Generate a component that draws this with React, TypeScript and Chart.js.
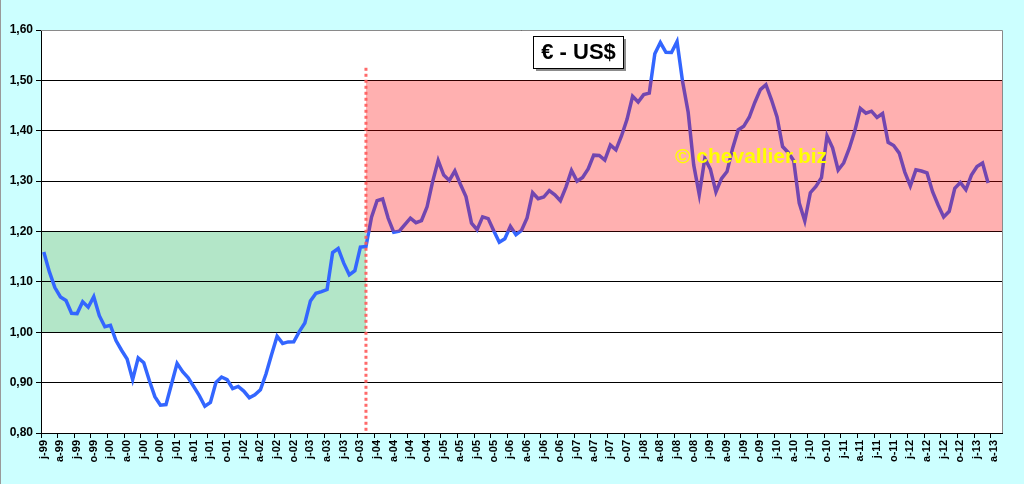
import { useEffect, useRef } from "react"
import { Chart, registerables } from "chart.js"

Chart.register(...registerables)

// French month initials used on the category axis
const MONTHS = ["j", "f", "m", "a", "m", "j", "j", "a", "s", "o", "n", "d"]
const FIRST_YEAR = 1999
// axis runs Jan 1999 .. May 2013, data stops in Mar 2013
const AXIS_MONTHS = 173

// EUR/USD monthly averages
const eur1999 = [1.1591, 1.1203, 1.0886, 1.0701, 1.063, 1.0377, 1.037, 1.0605, 1.0497, 1.0706, 1.0328, 1.011]
const eur2000 = [1.0137, 0.9834, 0.9643, 0.947, 0.906, 0.9492, 0.9397, 0.9041, 0.8721, 0.8552, 0.8564, 0.8973]
const eur2001 = [0.9383, 0.9217, 0.9095, 0.892, 0.8742, 0.8532, 0.8607, 0.9005, 0.9111, 0.9059, 0.8883, 0.8924]
const eur2002 = [0.8833, 0.87, 0.8758, 0.8858, 0.917, 0.9554, 0.9922, 0.9778, 0.9808, 0.9811, 1.0014, 1.0183]
const eur2003 = [1.0622, 1.0773, 1.0807, 1.0848, 1.1582, 1.1663, 1.1372, 1.1139, 1.1222, 1.1692, 1.1702, 1.2286]
const eur2004 = [1.2613, 1.2646, 1.2262, 1.1985, 1.2007, 1.2138, 1.2266, 1.2176, 1.2218, 1.249, 1.2991, 1.3408]
const eur2005 = [1.3119, 1.3014, 1.3201, 1.2938, 1.2694, 1.2165, 1.2037, 1.2292, 1.2256, 1.2015, 1.1786, 1.1856]
const eur2006 = [1.2103, 1.1938, 1.202, 1.2271, 1.277, 1.265, 1.2684, 1.2811, 1.2727, 1.2611, 1.2881, 1.3213]
const eur2007 = [1.2999, 1.3074, 1.3242, 1.3516, 1.3511, 1.3419, 1.3716, 1.3622, 1.3896, 1.4227, 1.4684, 1.457]
const eur2008 = [1.4718, 1.4748, 1.5527, 1.575, 1.5557, 1.5553, 1.577, 1.4975, 1.437, 1.3322, 1.2732, 1.3449]
const eur2009 = [1.3239, 1.2785, 1.305, 1.319, 1.365, 1.4016, 1.4088, 1.4268, 1.4562, 1.4816, 1.4914, 1.4614]
const eur2010 = [1.4272, 1.3686, 1.3569, 1.3406, 1.2565, 1.2209, 1.277, 1.2894, 1.3067, 1.3898, 1.3661, 1.322]
const eur2011 = [1.336, 1.3649, 1.3999, 1.4442, 1.4349, 1.4388, 1.4264, 1.4343, 1.377, 1.3706, 1.3556, 1.3179]
const eur2012 = [1.2905, 1.3224, 1.3201, 1.3162, 1.2789, 1.2526, 1.2288, 1.24, 1.2856, 1.2974, 1.2828, 1.3119]
const eur2013 = [1.3288, 1.3359, 1.2964]

const eurUsd = [
  ...eur1999, ...eur2000, ...eur2001, ...eur2002, ...eur2003,
  ...eur2004, ...eur2005, ...eur2006, ...eur2007, ...eur2008,
  ...eur2009, ...eur2010, ...eur2011, ...eur2012, ...eur2013,
]

const labels: string[] = []
for (let i = 0; i < AXIS_MONTHS; i++) {
  const year = FIRST_YEAR + Math.floor(i / 12)
  labels.push(MONTHS[i % 12] + "-" + String(year % 100).padStart(2, "0"))
}

const Y_MIN = 0.8
const Y_MAX = 1.6
const Y_STEP = 0.1

// shaded zones and split marker
const SPLIT_MONTH = 58 // Nov 2003
const SPLIT_TOP = 1.525
const GREEN_ZONE = [1.0, 1.2]
const RED_ZONE = [1.2, 1.5]

const TITLE = "€ - US$"
const WATERMARK = "© chevallier.biz"
const FONT = "'Liberation Sans', Arial, sans-serif"

const decorations = {
  id: "decorations",
  beforeDraw(chart: any) {
    const { ctx, chartArea: a, scales } = chart
    const x = scales.x
    const y = scales.y
    ctx.save()
    ctx.fillStyle = "#ccffff"
    ctx.fillRect(0, 0, chart.width, chart.height)
    ctx.fillStyle = "#9a9a9a"
    ctx.fillRect(0, 0, 1, chart.height)
    ctx.fillStyle = "#ffffff"
    ctx.fillRect(a.left, a.top, a.right - a.left, a.bottom - a.top)
    // green zone sits under the grid and the line
    const sx = x.getPixelForValue(SPLIT_MONTH)
    const g0 = y.getPixelForValue(GREEN_ZONE[0])
    const g1 = y.getPixelForValue(GREEN_ZONE[1])
    ctx.fillStyle = "#b3e6c8"
    ctx.fillRect(a.left, g1, sx - a.left, g0 - g1)
    ctx.restore()
  },
  afterDatasetsDraw(chart: any) {
    const { ctx, chartArea: a, scales } = chart
    const x = scales.x
    const y = scales.y
    const sx = x.getPixelForValue(SPLIT_MONTH)
    ctx.save()
    // red zone is laid over the line
    const r0 = y.getPixelForValue(RED_ZONE[0])
    const r1 = y.getPixelForValue(RED_ZONE[1])
    ctx.fillStyle = "rgba(255, 0, 0, 0.31)"
    ctx.fillRect(sx, r1, a.right - sx, r0 - r1)

    // plot border top / right
    ctx.strokeStyle = "#8a8a8a"
    ctx.lineWidth = 1
    ctx.beginPath()
    ctx.moveTo(a.left, a.top + 0.5)
    ctx.lineTo(a.right + 0.5, a.top + 0.5)
    ctx.lineTo(a.right + 0.5, a.bottom)
    ctx.stroke()

    // dotted split line
    ctx.strokeStyle = "rgba(255, 90, 90, 0.9)"
    ctx.lineWidth = 3
    ctx.setLineDash([3, 3])
    ctx.beginPath()
    ctx.moveTo(sx, y.getPixelForValue(SPLIT_TOP))
    ctx.lineTo(sx, a.bottom)
    ctx.stroke()
    ctx.restore()
  },
  afterDraw(chart: any) {
    const { ctx } = chart
    ctx.save()
    // title box with shadow
    const bx = 533, by = 36, bw = 90, bh = 32
    ctx.fillStyle = "rgba(0, 0, 0, 0.45)"
    ctx.fillRect(bx + 3, by + 3, bw, bh)
    ctx.fillStyle = "#ffffff"
    ctx.fillRect(bx, by, bw, bh)
    ctx.strokeStyle = "#000000"
    ctx.lineWidth = 1
    ctx.strokeRect(bx + 0.5, by + 0.5, bw, bh)
    ctx.fillStyle = "#000000"
    ctx.font = "bold 22px " + FONT
    ctx.textAlign = "center"
    ctx.textBaseline = "middle"
    ctx.fillText(TITLE, bx + bw / 2 + 0.5, by + bh / 2 + 1)

    // watermark
    ctx.fillStyle = "#ffff00"
    ctx.font = "bold 21px " + FONT
    ctx.textAlign = "left"
    ctx.fillText(WATERMARK, 675, 157)
    ctx.restore()
  },
}

export default function App() {
  const chartRef = useRef<HTMLCanvasElement>(null)
  const chartInstance = useRef<Chart | null>(null)

  useEffect(() => {
    document.body.style.margin = "0"
    if (!chartRef.current) return
    if (chartInstance.current) chartInstance.current.destroy()
    const ctx = chartRef.current.getContext("2d")
    if (!ctx) return

    chartInstance.current = new Chart(ctx, {
      type: "line",
      data: {
        labels,
        datasets: [
          {
            label: TITLE,
            data: eurUsd,
            borderColor: "#3366ff",
            borderWidth: 3.5,
            pointRadius: 0,
            tension: 0,
            fill: false,
          },
        ],
      },
      options: {
        responsive: false,
        animation: false,
        devicePixelRatio: 1,
        layout: { padding: { top: 30, right: 22, left: 0, bottom: 0 } },
        plugins: {
          legend: { display: false },
          tooltip: { enabled: false },
        },
        scales: {
          x: {
            offset: true,
            afterFit: (s: any) => {
              s.height = 51
            },
            grid: {
              offset: true,
              drawOnChartArea: false,
              tickLength: 5,
              color: (c: any) => (c.index % 3 === 0 ? "#000000" : "rgba(0,0,0,0)"),
              tickColor: (c: any) => (c.index % 3 === 0 ? "#000000" : "rgba(0,0,0,0)"),
            },
            border: { display: true, color: "#000000", width: 1 },
            ticks: {
              autoSkip: false,
              maxRotation: 90,
              minRotation: 90,
              padding: 2,
              color: "#000000",
              font: { family: FONT, size: 11, weight: "bold" },
              callback: (_v: any, i: number) => (i % 3 === 0 ? labels[i] : ""),
            },
          },
          y: {
            min: Y_MIN,
            max: Y_MAX,
            afterFit: (s: any) => {
              s.width = 41
            },
            grid: {
              color: "#000000",
              lineWidth: 1,
              tickLength: 5,
              tickColor: "#000000",
            },
            border: { display: true, color: "#000000", width: 1 },
            ticks: {
              stepSize: Y_STEP,
              padding: 3,
              color: "#000000",
              font: { family: FONT, size: 12, weight: "bold" },
              callback: (v: any) => Number(v).toFixed(2).replace(".", ","),
            },
          },
        },
      },
      plugins: [decorations],
    })

    return () => {
      if (chartInstance.current) {
        chartInstance.current.destroy()
        chartInstance.current = null
      }
    }
  }, [])

  return (
    <div style={{ width: 1024, height: 484 }}>
      <canvas ref={chartRef} width={1024} height={484} />
    </div>
  )
}
